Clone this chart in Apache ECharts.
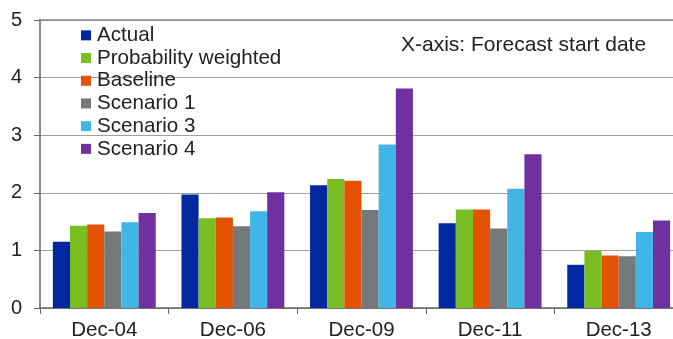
<!DOCTYPE html>
<html>
<head>
<meta charset="utf-8">
<script src="https://cdn.jsdelivr.net/npm/echarts@6/dist/echarts.min.js"></script>
<style>
  html, body { margin: 0; padding: 0; background: #fff; }
  #chart { width: 673px; height: 339px; }
</style>
</head>
<body>
<div id="chart"></div>
<script>
// Forecast start dates
const categories = ['Dec-04', 'Dec-06', 'Dec-09', 'Dec-11', 'Dec-13'];

// Values per series, one per forecast start date
const actual        = [1.15, 1.97, 2.13, 1.47, 0.75];
const probWeighted  = [1.43, 1.56, 2.24, 1.71, 0.99];
const baseline      = [1.45, 1.57, 2.21, 1.71, 0.91];
const scenario1     = [1.33, 1.42, 1.70, 1.38, 0.90];
const scenario3     = [1.49, 1.68, 2.84, 2.07, 1.32];
const scenario4     = [1.65, 2.01, 3.81, 2.67, 1.52];

const seriesNames  = ['Actual', 'Probability weighted', 'Baseline', 'Scenario 1', 'Scenario 3', 'Scenario 4'];
const seriesData   = [actual, probWeighted, baseline, scenario1, scenario3, scenario4];
const seriesColors = ['#0028A0', '#7ABD23', '#E35205', '#76797C', '#41B6E6', '#7030A0'];

const yTicks = [0, 1, 2, 3, 4, 5];

const FONT = 'Liberation Sans, Arial, sans-serif';
const chart = echarts.init(document.getElementById('chart'), null, { renderer: 'canvas' });

chart.setOption({
  animation: false,
  backgroundColor: '#ffffff',
  textStyle: { fontFamily: FONT },
  grid: { left: 40, top: 20, bottom: 31, width: 643, containLabel: false, outerBoundsMode: 'none' },
  legend: {
    orient: 'vertical',
    left: 81,
    top: 24,
    padding: 0,
    itemWidth: 10,
    itemHeight: 10,
    itemGap: 0,
    icon: 'rect',
    selectedMode: false,
    data: seriesNames,
    textStyle: { fontFamily: FONT, fontSize: 20.6, color: '#222', lineHeight: 22.7, padding: [0, 0, 0, 1] }
  },
  graphic: [{
    type: 'text',
    left: 401,
    top: 35,
    style: { text: 'X-axis: Forecast start date', fontFamily: FONT, fontSize: 21, fill: '#222' }
  }],
  xAxis: [{
    type: 'category',
    data: categories,
    axisLine: { show: true, lineStyle: { color: '#666', width: 1.5 } },
    axisTick: { show: true, length: 6, lineStyle: { color: '#666', width: 1 } },
    axisLabel: { fontFamily: FONT, fontSize: 20.5, color: '#222', margin: 12 }
  }, {
    type: 'category',
    data: categories,
    position: 'top',
    axisLine: { show: true, lineStyle: { color: '#888', width: 1.5 } },
    axisTick: { show: false },
    axisLabel: { show: false }
  }],
  yAxis: {
    type: 'value',
    min: yTicks[0],
    max: yTicks[yTicks.length - 1],
    interval: 1,
    axisLine: { show: true, lineStyle: { color: '#666', width: 1.5 } },
    axisTick: { show: true, length: 6, lineStyle: { color: '#666' } },
    axisLabel: { fontFamily: FONT, fontSize: 20, color: '#222', margin: 18 },
    splitLine: { show: true, lineStyle: { color: '#a0a0a0', width: 1 } }
  },
  series: seriesNames.map((name, i) => ({
    name: name,
    type: 'bar',
    data: seriesData[i],
    barGap: '0%',
    barCategoryGap: '20%',
    itemStyle: { color: seriesColors[i] }
  }))
});
</script>
</body>
</html>
